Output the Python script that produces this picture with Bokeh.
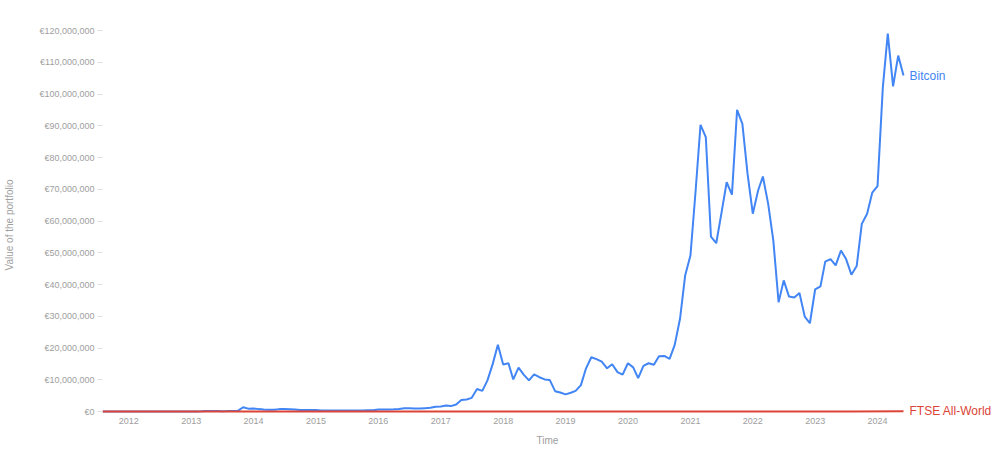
import pandas as pd
from bokeh.plotting import figure
from bokeh.models import Range1d, FixedTicker, CustomJSTickFormatter, Label
from bokeh.embed import file_html
from bokeh.resources import INLINE

# Monthly Bitcoin portfolio value in millions of EUR, Aug 2011 .. Jun 2024
start_month = "2011-08-01"
btc_millions = [
    0.017, 0.012, 0.008, 0.005, 0.005,
    0.008, 0.010, 0.008, 0.008, 0.009, 0.009, 0.011, 0.015, 0.016, 0.018, 0.017, 0.021,
    0.022, 0.035, 0.055, 0.15, 0.13, 0.14, 0.11, 0.12, 0.19, 0.22, 1.35, 0.9,
    0.95, 0.75, 0.6, 0.55, 0.55, 0.75, 0.75, 0.7, 0.6, 0.5, 0.5, 0.45,
    0.45, 0.3, 0.35, 0.35, 0.35, 0.3, 0.35, 0.35, 0.3, 0.3, 0.4, 0.4,
    0.6, 0.65, 0.65, 0.7, 0.8, 1.0, 1.0, 0.95, 0.95, 1.05, 1.15, 1.5,
    1.6, 1.9, 1.7, 2.2, 3.6, 3.8, 4.3, 7.1, 6.5, 9.8, 15.0, 21.0,
    14.8, 15.2, 10.1, 13.8, 11.6, 9.8, 11.7, 10.8, 10.1, 9.9, 6.4, 6.0,
    5.4, 5.9, 6.5, 8.3, 13.6, 17.1, 16.5, 15.7, 13.6, 14.9, 12.4, 11.6,
    15.2, 13.9, 10.5, 14.4, 15.2, 14.7, 17.4, 17.5, 16.6, 21.0, 29.2, 42.8,
    49.1, 70.0, 90.3, 86.4, 55.1, 53.0, 62.3, 72.2, 68.3, 95.0, 90.6, 75.0,
    62.3, 69.6, 74.0, 65.4, 53.9, 34.4, 41.3, 36.2, 35.9, 37.3, 29.9, 27.8,
    38.5, 39.4, 47.2, 48.0, 46.0, 50.7, 48.0, 43.1, 45.8, 59.1, 62.3, 68.9,
    71.0, 102.1, 119.0, 102.4, 112.1, 105.8,
]

# FTSE All-World portfolio value (EUR), essentially flat at this scale
ftse_dates = ["2011-08-01", "2012-08-01", "2013-08-01", "2014-08-01", "2015-08-01",
              "2016-08-01", "2017-08-01", "2018-08-01", "2019-08-01", "2020-08-01",
              "2021-08-01", "2022-08-01", "2023-08-01", "2024-06-01"]
ftse_values = [12000, 13000, 15000, 18000, 19000, 19500, 23000, 25000, 26000,
               28000, 36000, 33000, 37000, 42000]

year_labels = list(range(2012, 2025))
y_tick_millions = list(range(0, 130, 10))

series_names = ["Bitcoin", "FTSE All-World"]
series_colors = ["#4285F4", "#DB4437"]

btc_dates = pd.date_range(start_month, periods=len(btc_millions), freq="MS")
btc_values = [v * 1e6 for v in btc_millions]
ftse_dt = pd.to_datetime(ftse_dates)

# data spans 801 px; frame extends further right (invisible) to hold the end labels
data_px = 801
frame_px = 890
span = btc_dates[-1] - btc_dates[0]
x_end = btc_dates[0] + span * (frame_px / data_px)

# 0..120M spans 381 px; frame extends 8 px below zero so the lower label is not clipped
y_top = 120e6
plot_px = 381
below_px = 8
y_start = -y_top * below_px / plot_px

p = figure(
    frame_width=frame_px, frame_height=plot_px + below_px,
    x_axis_type="datetime",
    x_range=Range1d(btc_dates[0], x_end),
    y_range=Range1d(y_start, y_top),
    min_border_left=102, min_border_right=4, min_border_top=30, min_border_bottom=30,
    output_backend="svg", toolbar_location=None,
)

p.line(btc_dates, btc_values, line_color=series_colors[0], line_width=2)
p.line(ftse_dt, ftse_values, line_color=series_colors[1], line_width=2)

p.add_layout(Label(x=btc_dates[-1], y=btc_values[-1], text=series_names[0],
                   x_offset=6, text_baseline="middle", text_font="Liberation Sans",
                   text_font_size="12px", text_color=series_colors[0]))
p.add_layout(Label(x=ftse_dt[-1], y=ftse_values[-1], text=series_names[1],
                   x_offset=6, text_baseline="middle", text_font="Liberation Sans",
                   text_font_size="12px", text_color=series_colors[1]))

p.xaxis.ticker = FixedTicker(ticks=[pd.Timestamp(f"{y}-01-01").timestamp() * 1000 for y in year_labels])
p.xaxis.formatter = CustomJSTickFormatter(code="return String(new Date(tick).getUTCFullYear());")
p.yaxis.ticker = FixedTicker(ticks=[v * 1e6 for v in y_tick_millions])
p.yaxis.formatter = CustomJSTickFormatter(
    code='return "\u20ac" + Math.round(tick).toString().replace(/\\B(?=(\\d{3})+(?!\\d))/g, ",");')

p.xaxis.axis_label = "Time"
p.yaxis.axis_label = "Value of the portfolio"

for ax in (p.xaxis, p.yaxis):
    ax.axis_line_color = None
    ax.minor_tick_line_color = None
    ax.major_label_text_font = "Liberation Sans"
    ax.major_label_text_font_size = "9px"
    ax.major_label_text_color = "#9e9e9e"
    ax.axis_label_text_font = "Liberation Sans"
    ax.axis_label_text_font_size = "10px"
    ax.axis_label_text_font_style = "normal"
    ax.axis_label_text_color = "#9e9e9e"

p.xaxis.major_tick_line_color = None
p.xaxis.major_tick_out = 0
p.xaxis.major_tick_in = 0
p.xaxis.major_label_standoff = -2
p.xaxis.axis_label_standoff = 8
p.yaxis.major_tick_line_color = "#e0e0e0"
p.yaxis.major_tick_in = 0
p.yaxis.major_tick_out = 5
p.yaxis.major_label_standoff = 3
p.yaxis.axis_label_standoff = 21

p.xgrid.grid_line_color = None
p.ygrid.grid_line_color = None
p.outline_line_color = None
p.background_fill_color = "white"
p.border_fill_color = "white"

open("out.html", "w").write(file_html(p, INLINE))
